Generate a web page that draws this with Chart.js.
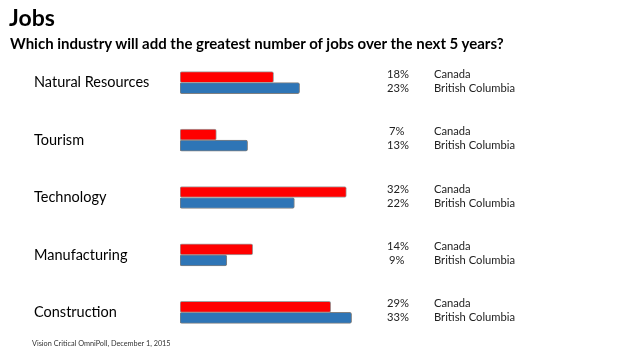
<!DOCTYPE html>
<html lang="en">
<head>
	<meta charset="UTF-8">
	<title>Jobs</title>
	<script src="https://cdn.jsdelivr.net/npm/chart.js"></script>
	<style>
		body {
			margin: 0;
			width: 640px;
			height: 360px;
			background: #fff;
			position: relative;
			overflow: hidden;
			font-family: Lato, "Open Sans", sans-serif;
		}

		.title {
			position: absolute;
			left: 9px;
			top: 3px;
			font-size: 23px;
			font-weight: bold;
			color: #000;
		}

		.subtitle {
			position: absolute;
			left: 10px;
			top: 34px;
			font-size: 15px;
			font-weight: bold;
			color: #000;
		}

		.source {
			position: absolute;
			left: 32px;
			top: 339px;
			font-size: 7.3px;
			color: #333;
		}

		#chartWrap {
			position: absolute;
			left: 0;
			top: 0;
			width: 640px;
			height: 360px;
		}
	</style>
</head>
<body>
<div id="chartWrap"><canvas id="jobsChart"></canvas></div>
<div class="title">Jobs</div>
<div class="subtitle">Which industry will add the greatest number of jobs over the next 5 years?</div>
<div class="source">Vision Critical OmniPoll, December 1, 2015</div>

<script>
	const categories = ['Natural Resources', 'Tourism', 'Technology', 'Manufacturing', 'Construction'];
	const seriesNames = ['Canada', 'British Columbia'];
	const canada = [18, 7, 32, 14, 29];
	const britishColumbia = [23, 13, 22, 9, 33];

	// percent + series name next to each bar
	const sideLabels = {
		id: 'sideLabels',
		afterDatasetsDraw(chart) {
			const ctx = chart.ctx;
			ctx.save();
			ctx.font = '11.2px Lato, "Open Sans", sans-serif';
			ctx.fillStyle = '#222';
			ctx.textBaseline = 'middle';
			chart.data.datasets.forEach((ds, di) => {
				const meta = chart.getDatasetMeta(di);
				meta.data.forEach((bar, i) => {
					const y = bar.y + (di === 0 ? -3 : 0);
					ctx.textAlign = 'left';
					ctx.fillText(ds.data[i] + '%', ds.data[i] < 10 ? 389 : 387, y);
					ctx.fillText(ds.label, 434, y);
				});
			});
			ctx.restore();
		}
	};

	new Chart(document.getElementById('jobsChart'), {
		type: 'bar',
		data: {
			labels: categories,
			datasets: [{
				label: seriesNames[0],
				data: canada,
				backgroundColor: '#ff0000',
				borderColor: '#a0a0a0',
				borderWidth: 1,
				borderRadius: 2,
				borderSkipped: false,
				barThickness: 11
			}, {
				label: seriesNames[1],
				data: britishColumbia,
				backgroundColor: '#2e75b6',
				borderColor: '#808080',
				borderWidth: 1,
				borderRadius: 2,
				borderSkipped: false,
				barThickness: 11
			}]
		},
		options: {
			indexAxis: 'y',
			responsive: true,
			maintainAspectRatio: false,
			animation: false,
			layout: {
				padding: { left: 34, right: 252, top: 54, bottom: 19 }
			},
			plugins: {
				legend: { display: false },
				tooltip: { enabled: false }
			},
			scales: {
				x: {
					display: false,
					min: 0,
					max: 40
				},
				y: {
					grid: { display: false },
					border: { display: false },
					afterFit: scale => { scale.width = 146; },
					ticks: {
						crossAlign: 'far',
						padding: 0,
						color: '#000',
						font: { size: 14.5, family: 'Lato, "Open Sans", sans-serif' }
					}
				}
			}
		},
		plugins: [sideLabels]
	});
</script>
</body>
</html>
